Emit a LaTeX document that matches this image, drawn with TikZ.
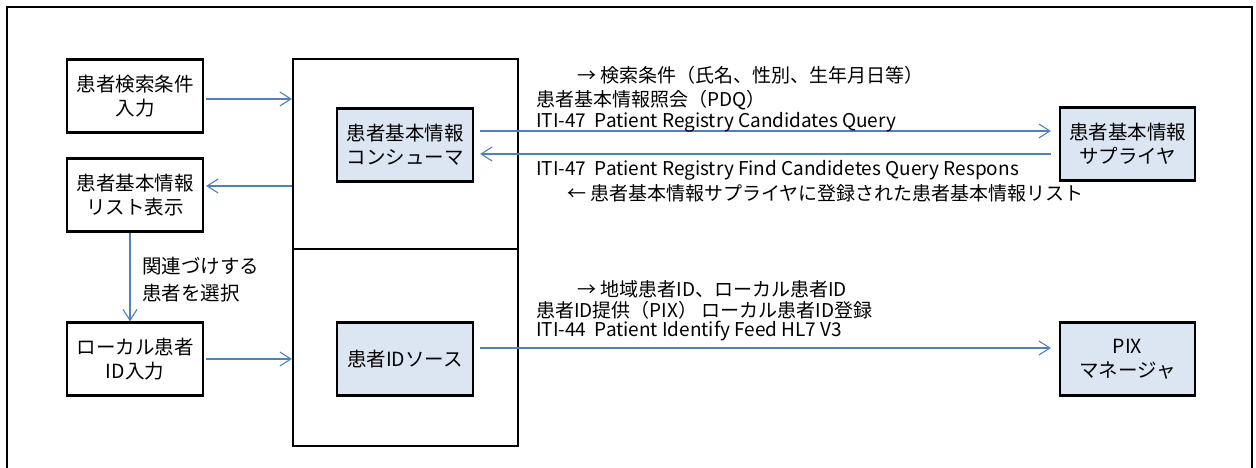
\documentclass[tikz,border=0pt]{standalone}
\usepackage{fontspec}
\setmainfont{Noto Sans CJK JP}
\usetikzlibrary{arrows.meta}
\definecolor{linkblue}{RGB}{79,129,189}
\definecolor{actorfill}{RGB}{220,230,242}

\begin{document}
\begin{tikzpicture}[x=1pt,y=-1pt,
    every node/.style={font=\fontsize{19.5}{24}\selectfont},
    box/.style={draw,line width=2.2pt,minimum width=136pt,minimum height=73pt,align=center,inner sep=0pt},
    actor/.style={box,fill=actorfill},
    system/.style={draw,line width=2.2pt,minimum width=225pt,inner sep=0pt},
    link/.style={draw=linkblue,line width=1.1pt,-{Straight Barb[length=11pt,width=14pt,line width=1.1pt]}},
    msg/.style={anchor=west,inner sep=0pt,font=\fontsize{19}{24}\selectfont}]
    \useasboundingbox (0,0) rectangle (1256,468);
    \draw[line width=2.4pt] (7,475) -- (7,7) -- (1252,7) -- (1252,475);

    \node[box] (search) at (135,96) {患者検索条件\\入力};
    \node[box] (list) at (135,195) {患者基本情報\\リスト表示};
    \node[box] (local) at (135,359) {ローカル患者\\ID入力};

    \node[system,minimum height=190pt] (upper) at (405.5,154) {};
    \node[system,minimum height=197pt] (lower) at (405.5,347.5) {};
    \node[actor] (cons) at (405,145) {患者基本情報\\コンシューマ};
    \node[actor] (src) at (405,359) {患者IDソース};

    \node[actor,minimum width=135pt] (supp) at (1127.5,144) {患者基本情報\\サプライヤ};
    \node[actor,minimum width=135pt] (pix) at (1127.5,359) {PIX\\マネージャ};

    \draw[link,shorten <=2pt] (search.east |- 0,99) -- (upper.west |- 0,99);
    \draw[link] (upper.west |- 0,186) -- ([xshift=2pt]list.east |- 0,186);
    \draw[link] ([xshift=-5pt]list.south) -- ([xshift=-5pt]local.north);
    \node[msg,align=left,font=\fontsize{19.5}{27}\selectfont] (pick) at (142,280) {関連づけする\\患者を選択};
    \draw[link,shorten <=2pt] (local.east) -- (local.east -| lower.west);

    \draw[link,shorten <=6pt,shorten >=8pt] (cons.east |- 0,131) -- (supp.west |- 0,131);
    \draw[link,shorten <=8pt,shorten >=6pt] (supp.west |- 0,154) -- (cons.east |- 0,154);
    \draw[link,shorten <=6pt,shorten >=8pt] (src.east |- 0,348) -- (pix.west |- 0,348);

    % PDQ labels
    \node[msg] (q1) at (577,75) {→ 検索条件（氏名、性別、生年月日等）};
    \node[msg] (q2) at (536,100) {患者基本情報照会（PDQ）};
    \node[msg] (q3) at (536,122) {ITI-47\ \ Patient Registry Candidates Query};
    \node[msg] (r1) at (536,170) {ITI-47\ \ Patient Registry Find Candidetes Query Respons};
    \node[msg] (r2) at (567,193) {← 患者基本情報サプライヤに登録された患者基本情報リスト};

    % PIX labels
    \node[msg] (p1) at (577,289) {→ 地域患者ID、ローカル患者ID};
    \node[msg] (p2) at (536,310) {患者ID提供（PIX） ローカル患者ID登録};
    \node[msg] (p3) at (536,331) {ITI-44\ \ Patient Identify Feed HL7 V3};
\end{tikzpicture}
\end{document}
